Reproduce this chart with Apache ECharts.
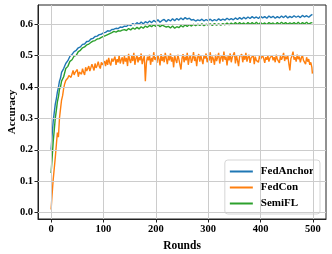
<!DOCTYPE html>
<html><head><meta charset="utf-8">
<script src="https://cdn.jsdelivr.net/npm/echarts@6/dist/echarts.min.js"></script>
<style>html,body{margin:0;padding:0;background:#fff}#c{width:332px;height:254px}</style>
</head><body><div id="c"></div>
<script>
// Rounds at which FedAnchor / SemiFL values were read (fine steps early, then every 4 rounds)
const roundsEarly = [0,2,4,6,8,10,12,14,16,18,20];
const roundsLate = [];
for (let r = 24; r <= 496; r += 4) roundsLate.push(r);
const roundsAS = roundsEarly.concat(roundsLate, [499]);
// Rounds at which FedCon values were read (every 2 rounds)
const roundsC = [];
for (let r = 0; r <= 498; r += 2) roundsC.push(r);
roundsC.push(499);

const fedAnchor = [
0.200,0.248,0.290,0.318,0.345,0.362,0.383,0.398,0.418,0.428,0.446,
0.458,0.474,0.483,0.497,0.503,0.512,0.516,0.524,0.527,0.535,
0.536,0.544,0.545,0.552,0.554,0.560,0.561,0.566,0.567,0.572,
0.573,0.578,0.577,0.582,0.583,0.586,0.585,0.590,0.589,0.593,
0.592,0.598,0.594,0.601,0.597,0.604,0.599,0.606,0.600,0.607,
0.603,0.609,0.604,0.611,0.606,0.613,0.605,0.611,0.614,0.607,
0.614,0.609,0.616,0.610,0.617,0.612,0.619,0.613,0.620,0.615,
0.618,0.612,0.614,0.609,0.613,0.610,0.615,0.609,0.614,0.610,
0.615,0.609,0.614,0.610,0.616,0.611,0.615,0.612,0.618,0.613,
0.617,0.613,0.619,0.614,0.620,0.615,0.621,0.616,0.622,0.617,
0.623,0.618,0.622,0.617,0.624,0.619,0.623,0.618,0.625,0.620,
0.624,0.618,0.623,0.619,0.625,0.620,0.626,0.619,0.624,0.620,
0.626,0.621,0.625,0.620,0.627,0.622,0.626,0.621,0.627,
0.630];

const semiFL = [
0.126,0.175,0.225,0.262,0.300,0.325,0.352,0.368,0.392,0.400,0.418,
0.432,0.458,0.465,0.481,0.486,0.498,0.500,0.512,0.516,0.524,
0.527,0.533,0.536,0.541,0.545,0.547,0.552,0.553,0.557,0.560,
0.563,0.566,0.569,0.572,0.576,0.574,0.578,0.577,0.580,0.582,
0.579,0.585,0.581,0.587,0.583,0.589,0.584,0.591,0.586,0.593,
0.589,0.595,0.591,0.597,0.592,0.598,0.591,0.596,0.593,0.590,
0.592,0.587,0.593,0.586,0.591,0.588,0.595,0.590,0.597,0.592,
0.598,0.593,0.599,0.594,0.599,0.595,0.600,0.594,0.599,0.596,
0.600,0.595,0.601,0.596,0.600,0.596,0.601,0.597,0.603,0.597,
0.603,0.598,0.604,0.598,0.604,0.599,0.603,0.598,0.604,0.599,
0.604,0.599,0.605,0.598,0.604,0.599,0.603,0.598,0.604,0.600,
0.603,0.598,0.604,0.599,0.605,0.600,0.604,0.599,0.603,0.600,
0.604,0.599,0.605,0.598,0.604,0.600,0.605,0.599,0.603,
0.604];

const fedCon = [
0.010,0.060,0.105,0.140,0.175,0.215,0.255,0.240,0.300,0.330,0.358,
0.372,0.395,0.410,0.420,0.416,0.428,0.436,0.442,0.430,0.436,
0.452,0.438,0.446,0.440,0.455,0.432,0.447,0.452,0.440,0.458,
0.446,0.438,0.462,0.450,0.444,0.466,0.450,0.456,0.472,0.462,
0.452,0.474,0.460,0.468,0.480,0.465,0.458,0.478,0.470,0.476,
0.482,0.466,0.486,0.470,0.492,0.476,0.468,0.490,0.480,0.484,
0.496,0.470,0.488,0.478,0.500,0.474,0.486,0.494,0.472,0.498,
0.480,0.492,0.466,0.505,0.486,0.476,0.498,0.482,0.508,0.470,
0.490,0.500,0.478,0.494,0.484,0.506,0.472,0.488,0.498,0.418,
0.476,0.496,0.484,0.502,0.470,0.492,0.480,0.510,0.486,0.494,
0.476,0.500,0.488,0.468,0.504,0.482,0.496,0.478,0.508,0.490,
0.472,0.498,0.484,0.506,0.480,0.494,0.462,0.500,0.486,0.476,
0.502,0.488,0.494,0.455,0.490,0.504,0.478,0.496,0.484,0.508,
0.470,0.492,0.500,0.476,0.488,0.510,0.482,0.496,0.466,0.494,
0.504,0.480,0.498,0.486,0.472,0.500,0.490,0.506,0.478,0.492,
0.484,0.510,0.476,0.496,0.488,0.470,0.502,0.482,0.494,0.508,
0.474,0.492,0.500,0.480,0.512,0.486,0.496,0.468,0.498,0.484,
0.506,0.478,0.494,0.488,0.510,0.474,0.500,0.484,0.466,0.496,
0.490,0.504,0.478,0.498,0.486,0.508,0.480,0.494,0.502,0.476,
0.492,0.486,0.500,0.472,0.496,0.484,0.490,0.478,0.498,0.488,
0.482,0.500,0.490,0.476,0.494,0.486,0.498,0.480,0.492,0.488,
0.500,0.484,0.494,0.478,0.502,0.488,0.492,0.476,0.498,0.486,
0.494,0.508,0.482,0.496,0.488,0.500,0.474,0.452,0.490,0.498,
0.512,0.486,0.494,0.480,0.502,0.488,0.496,0.478,0.492,0.500,
0.484,0.490,0.472,0.494,0.480,0.488,0.470,0.478,0.462,
0.442];

const seriesNames = ['FedAnchor','FedCon','SemiFL'];
const seriesColors = ['#1f77b4','#ff7f0e','#2ca02c'];
const seriesValues = [fedAnchor, fedCon, semiFL];
const seriesRounds = [roundsAS, roundsC, roundsAS];
const xTicks = [0,100,200,300,400,500];
const yTicks = [0.0,0.1,0.2,0.3,0.4,0.5,0.6];

const font = {fontFamily:'Liberation Serif, Times New Roman, serif', fontWeight:'bold', color:'#000'};

const gridLines = {
  type:'line', data:[], z:1, silent:true, symbol:'none',
  markLine:{
    silent:true, symbol:'none', label:{show:false},
    lineStyle:{color:'#cccccc', width:1, type:'solid'},
    data: xTicks.map(v=>({xAxis:v})).concat(yTicks.map(v=>({yAxis:v})))
  }
};

const chart = echarts.init(document.getElementById('c'), null, {renderer:'canvas'});
chart.setOption({
  animation:false,
  grid:{left:38, right:6, top:5, bottom:35, containLabel:false, outerBoundsMode:'none',
        show:true, borderColor:'#222', borderWidth:1, backgroundColor:'transparent'},
  xAxis:{
    type:'value', min:-25, max:525, interval:25,
    name:'Rounds', nameLocation:'middle', nameGap:14,
    nameTextStyle:Object.assign({fontSize:11.5}, font),
    axisLine:{show:true, onZero:false, lineStyle:{color:'#222', width:1}},
    axisTick:{show:true, customValues:xTicks, length:3.5, lineStyle:{color:'#222', width:1}},
    splitLine:{show:false},
    axisLabel:Object.assign({fontSize:10.5, margin:5, customValues:xTicks, formatter:v=>String(v)}, font)
  },
  yAxis:{
    type:'value', min:-0.02, max:0.66, interval:0.02,
    name:'Accuracy', nameLocation:'middle', nameGap:20, nameRotate:90, nameMoveOverlap:false,
    nameTextStyle:Object.assign({fontSize:11}, font),
    axisLine:{show:true, onZero:false, lineStyle:{color:'#222', width:1}},
    axisTick:{show:true, customValues:yTicks, length:3.5, lineStyle:{color:'#222', width:1}},
    splitLine:{show:false},
    axisLabel:Object.assign({fontSize:10.5, margin:5, customValues:yTicks, formatter:v=>v.toFixed(1)}, font)
  },
  legend:{
    orient:'vertical', right:12, bottom:40,
    data:seriesNames.map(n=>({name:n, icon:'rect'})),
    itemWidth:23, itemHeight:2, itemGap:3,
    padding:[5,6,4,5],
    backgroundColor:'rgba(255,255,255,0.85)', borderColor:'#d5d5d5', borderWidth:1, borderRadius:3,
    textStyle:Object.assign({fontSize:11, lineHeight:13, padding:[0,0,0,3]}, font)
  },
  series:[gridLines].concat(seriesNames.map((n,i)=>({
    name:n, type:'line', z:2+i, symbol:'none', showSymbol:false,
    lineStyle:{color:seriesColors[i], width:1.4},
    itemStyle:{color:seriesColors[i]},
    data: seriesRounds[i].map((r,k)=>[r, seriesValues[i][k]])
  })))
});
</script></body></html>
